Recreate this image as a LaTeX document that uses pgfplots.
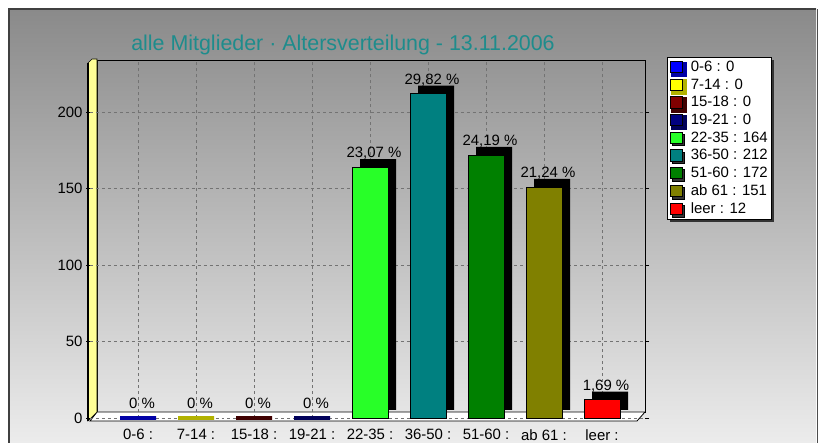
\documentclass[border=0pt]{standalone}
\usepackage{fontspec}
\setmainfont{Liberation Sans}
\usepackage{pgfplots}
\pgfplotsset{compat=1.18}
\usetikzlibrary{shadows}
\definecolor{cA}{RGB}{0,0,255}
\definecolor{cB}{RGB}{255,255,0}
\definecolor{cC}{RGB}{128,0,0}
\definecolor{cD}{RGB}{0,0,128}
\definecolor{cE}{RGB}{40,255,40}
\definecolor{cF}{RGB}{0,128,128}
\definecolor{cG}{RGB}{0,128,0}
\definecolor{cH}{RGB}{128,128,0}
\definecolor{cI}{RGB}{255,0,0}
\definecolor{titlec}{RGB}{30,140,140}
\definecolor{bgtop}{RGB}{138,138,138}
\definecolor{bgbot}{RGB}{236,236,236}
\definecolor{wallyel}{RGB}{255,255,150}
\begin{document}
\begin{tikzpicture}
% page background and frame
\fill[white] (0bp,0bp) rectangle (823bp,443bp);
\shade[top color=bgtop, bottom color=bgbot] (9bp,0bp) rectangle (816bp,434bp);
\draw[black!75, line width=2.5bp] (9bp,0bp) -- (9bp,434bp) -- (816bp,434bp);
\draw[black!70, line width=1bp] (817.5bp,0bp) -- (817.5bp,434bp);
% back wall frame
\draw[black, line width=0.8bp] (97bp,31bp) rectangle (645bp,383bp);
% floor
\draw[fill=white, draw=black, line width=0.8bp] (90bp,22bp) -- (637bp,22bp) -- (645bp,31bp) -- (97bp,31bp) -- cycle;
% yellow side wall
\draw[fill=wallyel, draw=black, line width=0.6bp] (88bp,22bp) -- (88bp,380bp) -- (92bp,384bp) -- (97bp,384bp) -- (97bp,31bp) -- cycle;
\draw[black, line width=1.4bp] (88bp,22bp) -- (88bp,380bp);
% title
\node[text=titlec, font=\fontsize{21.5}{23}\selectfont] at (343bp,398bp) {alle Mitglieder · Altersverteilung - 13.11.2006};
\begin{axis}[
  at={(90bp,25bp)}, anchor=south west,
  width=555bp, height=358bp, scale only axis,
  xmin=-0.828, xmax=8.741, ymin=0, ymax=234,
  xtick={0,1,2,3,4,5,6,7,8},
  xticklabels={0-6 :, 7-14 :, 15-18 :, 19-21 :, 22-35 :, 36-50 :, 51-60 :, ab 61 :, leer :},
  ytick={0,50,100,150,200},
  axis line style={draw=none},
  tick align=outside, major tick length=4bp,
  xtick style={draw=none},
  ytick style={black, line width=0.6bp},
  xmajorgrids, ymajorgrids,
  grid style={dashed, black!55, line width=0.5bp},
  tick label style={font=\fontsize{15}{17}\selectfont},
  xticklabel style={yshift=-4bp},
  /pgf/number format/assume math mode=true,
  clip=false,
  every axis plot/.append style={ybar, bar width=36bp, bar shift=0pt},
  every node near coord/.append style={font=\fontsize{15}{17}\selectfont, anchor=south, inner sep=0pt, yshift=7bp, xshift=4bp, text=black},
  legend cell align=left,
  legend style={at={(1.0396,1.0084)}, anchor=north west, draw=black, fill=white, line width=0.6bp,
    font=\fontsize{15}{16}\selectfont, inner sep=2.5bp, row sep=2.7bp,
    nodes={inner sep=1.5bp},
    /tikz/every odd column/.append style={column sep=7bp},
    drop shadow={shadow xshift=2.5bp, shadow yshift=-2.5bp, fill=black!80, opacity=1}},
  legend image code/.code={\draw[#1, draw=black, line width=0.5bp] (0bp,-5.5bp) rectangle (12bp,6bp);},
]
% 3D depth (shadow) of the bars
\addplot[fill=black, draw=none, xshift=8bp, yshift=8bp, forget plot] coordinates {(4,164) (5,212) (6,172) (7,151) (8,12)};
\addplot[fill=cA, draw=cA!65!black, line width=4bp, nodes near coords={0 \%}] coordinates {(0,0)};
\addlegendentry{0-6 : 0}
\addplot[fill=cB, draw=cB!70!black, line width=4bp, nodes near coords={0 \%}] coordinates {(1,0)};
\addlegendentry{7-14 : 0}
\addplot[fill=cC, draw=cC!50!black, line width=4bp, nodes near coords={0 \%}] coordinates {(2,0)};
\addlegendentry{15-18 : 0}
\addplot[fill=cD, draw=cD!70!black, line width=4bp, nodes near coords={0 \%}] coordinates {(3,0)};
\addlegendentry{19-21 : 0}
\addplot[fill=cE, draw=black, line width=0.6bp, nodes near coords={23,07 \%}] coordinates {(4,164)};
\addlegendentry{22-35 : 164}
\addplot[fill=cF, draw=black, line width=0.6bp, nodes near coords={29,82 \%}] coordinates {(5,212)};
\addlegendentry{36-50 : 212}
\addplot[fill=cG, draw=black, line width=0.6bp, nodes near coords={24,19 \%}] coordinates {(6,172)};
\addlegendentry{51-60 : 172}
\addplot[fill=cH, draw=black, line width=0.6bp, nodes near coords={21,24 \%}] coordinates {(7,151)};
\addlegendentry{ab 61 : 151}
\addplot[fill=cI, draw=black, line width=0.6bp, nodes near coords={1,69 \%}] coordinates {(8,12)};
\addlegendentry{leer : 12}
\end{axis}
\pgfresetboundingbox
\path[use as bounding box] (0bp,0bp) rectangle (823bp,443bp);
\end{tikzpicture}
\end{document}
